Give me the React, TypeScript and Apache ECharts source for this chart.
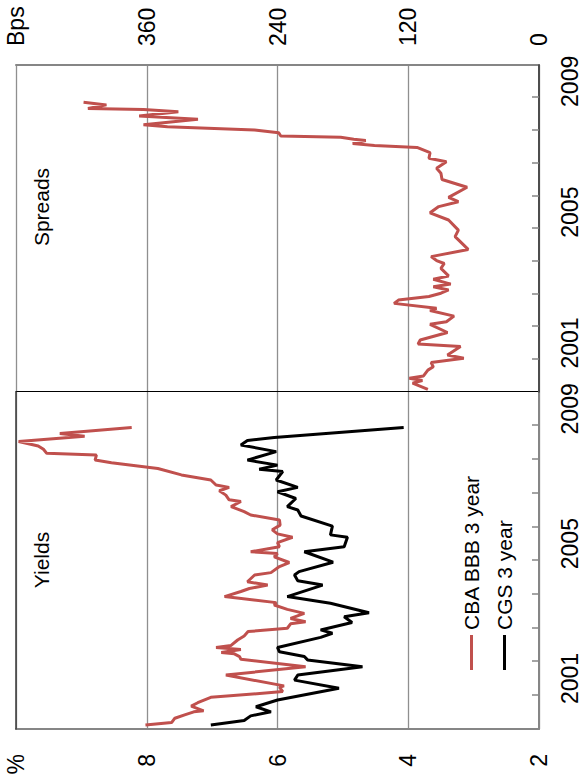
import { useEffect, useRef } from "react";
import * as echarts from "echarts";

const FONT = "'Liberation Sans', Arial, sans-serif";

// dates are decimal years
const bbbYieldT = [
  2000.12, 2000.19, 2000.32, 2000.42, 2000.51, 2000.54, 2000.68, 2000.78, 2000.94, 2001.11,
  2001.24, 2001.28, 2001.6, 2001.85, 2002.07, 2002.15, 2002.23, 2002.27, 2002.36, 2002.42,
  2002.48, 2002.64, 2002.76, 2002.89, 2002.99, 2003.12, 2003.18, 2003.28, 2003.43, 2003.55,
  2003.68, 2003.75, 2003.93, 2004.08, 2004.17, 2004.27, 2004.37, 2004.57, 2004.64, 2004.82,
  2004.94, 2005.11, 2005.21, 2005.26, 2005.41, 2005.53, 2005.69, 2005.79, 2005.91, 2006.05,
  2006.2, 2006.35, 2006.45, 2006.6, 2006.75, 2006.8, 2006.94, 2007.07, 2007.17, 2007.24,
  2007.39, 2007.54, 2007.73, 2007.9, 2007.98, 2008.13, 2008.18, 2008.3, 2008.4, 2008.53,
  2008.69, 2008.77, 2008.95,
];
const bbbYieldV = [
  8.02, 7.62, 7.57, 7.42, 7.28, 7.13, 7.32, 7.22, 7.02, 5.92,
  5.97, 5.9, 6.79, 5.57, 6.56, 6.58, 6.66, 6.86, 6.56, 6.94,
  6.71, 6.61, 6.51, 6.45, 5.85, 5.8, 5.57, 5.8, 5.59, 5.85,
  6.05, 6.02, 6.81, 6.56, 6.43, 6.15, 6.46, 6.35, 6.1, 5.97,
  5.82, 6.05, 6.0, 6.41, 5.97, 6.0, 5.77, 6.0, 6.08, 5.96,
  5.97, 6.41, 6.51, 6.71, 6.56, 6.74, 6.79, 6.89, 6.74, 6.94,
  7.02, 7.47, 7.83, 8.54, 8.79, 8.77, 9.53, 9.58, 9.66, 9.96,
  8.95, 9.33, 8.23,
];

const cgsYieldT = [
  2000.12, 2000.25, 2000.39, 2000.51, 2000.66, 2000.86, 2001.21, 2001.45, 2001.6, 2001.85,
  2002.05, 2002.15, 2002.29, 2002.42, 2002.72, 2002.84, 2002.94, 2003.16, 2003.33, 2003.45,
  2003.73, 2003.93, 2004.27, 2004.4, 2004.57, 2004.67, 2004.95, 2005.26, 2005.41, 2005.69,
  2005.76, 2006.02, 2006.32, 2006.5, 2006.6, 2006.84, 2007.04, 2007.17, 2007.39, 2007.64,
  2007.71, 2007.83, 2007.98, 2008.23, 2008.43, 2008.56, 2008.65, 2008.95,
];
const cgsYieldV = [
  7.02, 6.51, 6.41, 6.1, 6.33, 6.0, 5.06, 5.74, 5.69, 4.7,
  5.54, 5.59, 5.97, 6.0, 5.34, 5.16, 5.34, 4.86, 4.98, 4.6,
  5.19, 5.85, 5.31, 5.69, 5.74, 5.67, 5.15, 5.59, 4.98, 4.93,
  5.19, 5.16, 5.64, 5.69, 5.85, 5.72, 6.0, 5.69, 6.02, 5.92,
  6.28, 6.0, 6.46, 6.02, 6.56, 6.46, 6.05, 4.07,
];

const spreadT = [
  2000.08, 2000.27, 2000.35, 2000.42, 2000.49, 2000.67, 2000.77, 2000.9, 2001.03, 2001.13,
  2001.39, 2001.47, 2001.59, 2001.82, 2002.07, 2002.15, 2002.32, 2002.49, 2002.56, 2002.71,
  2002.81, 2002.92, 2003.02, 2003.12, 2003.22, 2003.3, 2003.45, 2003.55, 2003.78, 2003.93,
  2004.02, 2004.14, 2004.36, 2004.75, 2004.95, 2005.26, 2005.48, 2005.67, 2005.82, 2005.95,
  2006.26, 2006.5, 2006.69, 2006.84, 2007.04, 2007.15, 2007.32, 2007.48, 2007.54, 2007.6,
  2007.69, 2007.73, 2007.79, 2007.83, 2007.93, 2008.01, 2008.11, 2008.17, 2008.34, 2008.44,
  2008.57, 2008.64, 2008.67, 2008.78, 2008.86,
];
const spreadV = [
  102, 116, 107, 119, 106, 102, 97, 99, 69, 84,
  72, 111, 109, 84, 100, 85, 78, 100, 94, 133,
  129, 101, 90, 83, 97, 81, 97, 83, 90, 87,
  94, 99, 65, 77, 74, 83, 100, 92, 74, 83,
  66, 89, 90, 94, 85, 101, 100, 112, 151, 171,
  159, 170, 182, 237, 239, 261, 341, 363, 313, 367,
  331, 363, 414, 397, 418,
];

const yearTicks = [2001, 2002, 2003, 2004, 2005, 2006, 2007, 2008, 2009];
const yearLabels = [2001, 2005, 2009];

const RED = "#c0504d";
const FRAME = "#868686";
const GRID = "#8f8f8f";

const pairs = (t: number[], v: number[]) => t.map((x, i) => [x, v[i]]);

function timeAxis(gridIndex: number) {
  return {
    type: "value",
    gridIndex,
    min: 2000,
    max: 2010,
    position: "bottom",
    axisLine: { show: true, lineStyle: { color: FRAME, width: 2 } },
    axisTick: {
      show: true,
      inside: true,
      length: 7,
      customValues: yearTicks,
      lineStyle: { color: FRAME, width: 1.5 },
    },
    axisLabel: {
      customValues: yearLabels.map((y) => y + 0.5),
      formatter: (v: number) => String(Math.floor(v)),
      fontSize: 23,
      fontFamily: FONT,
      color: "#000",
      margin: 19,
    },
    splitLine: { show: false },
  };
}

function topEdge(gridIndex: number) {
  return {
    type: "value",
    gridIndex,
    min: 2000,
    max: 2010,
    position: "top",
    axisLine: { show: true, lineStyle: { color: "#3a3a3a", width: 1.5 } },
    axisTick: { show: false },
    axisLabel: { show: false },
    splitLine: { show: false },
  };
}

export default function App() {
  const hostRef = useRef<HTMLDivElement>(null);

  useEffect(() => {
    const el = hostRef.current;
    if (!el) return;
    const chart = echarts.init(el, undefined, { renderer: "svg" });

    chart.setOption({
      animation: false,
      backgroundColor: "#fff",
      textStyle: { fontFamily: FONT },
      grid: [
        { left: 53, right: 392, top: 16, bottom: 44 },
        { left: 390, right: 65, top: 16, bottom: 44 },
      ],
      xAxis: [timeAxis(0), timeAxis(1), topEdge(0), topEdge(1)],
      yAxis: [
        {
          type: "value",
          gridIndex: 0,
          min: 2,
          max: 10,
          interval: 2,
          position: "left",
          axisLine: { show: true, lineStyle: { color: FRAME, width: 2 } },
          axisTick: { show: false },
          axisLabel: {
            formatter: (v: number) => (v === 10 ? "%" : String(v)),
            fontSize: 23,
            fontFamily: FONT,
            color: "#000",
            margin: 25,
          },
          splitLine: { show: true, lineStyle: { color: GRID, width: 1.3 } },
        },
        {
          type: "value",
          gridIndex: 1,
          min: 0,
          max: 480,
          interval: 120,
          position: "right",
          axisLine: { show: true, lineStyle: { color: FRAME, width: 2 } },
          axisTick: { show: false },
          axisLabel: {
            formatter: (v: number) => (v === 480 ? "Bps" : String(v)),
            fontSize: 23,
            fontFamily: FONT,
            color: "#000",
            margin: 19,
          },
          splitLine: { show: true, lineStyle: { color: GRID, width: 1.3 } },
        },
        {
          type: "value",
          gridIndex: 1,
          min: 0,
          max: 480,
          interval: 120,
          position: "left",
          axisLine: { show: true, lineStyle: { color: "#000", width: 1.2 } },
          axisTick: { show: false },
          axisLabel: { show: false },
          splitLine: { show: false },
        },
      ],
      legend: {
        orient: "vertical",
        left: 107,
        top: 456,
        itemWidth: 35,
        itemHeight: 3,
        itemGap: 12,
        icon: "rect",
        textStyle: { fontSize: 21, lineHeight: 21, fontFamily: FONT, color: "#000" },
        data: ["CBA BBB 3 year", "CGS 3 year"],
      },
      graphic: [
        {
          type: "text",
          x: 222,
          y: 41,
          style: { text: "Yields", fontSize: 21, fontFamily: FONT, fill: "#000", align: "center", verticalAlign: "middle" },
        },
        {
          type: "text",
          x: 575,
          y: 41,
          style: { text: "Spreads", fontSize: 21, fontFamily: FONT, fill: "#000", align: "center", verticalAlign: "middle" },
        },
      ],
      series: [
        {
          name: "CBA BBB 3 year",
          type: "line",
          xAxisIndex: 0,
          yAxisIndex: 0,
          showSymbol: false,
          symbol: "none",
          color: RED,
          lineStyle: { color: RED, width: 3 },
          data: pairs(bbbYieldT, bbbYieldV),
        },
        {
          name: "CGS 3 year",
          type: "line",
          xAxisIndex: 0,
          yAxisIndex: 0,
          showSymbol: false,
          symbol: "none",
          color: "#000",
          lineStyle: { color: "#000", width: 3 },
          data: pairs(cgsYieldT, cgsYieldV),
        },
        {
          name: "Spread",
          type: "line",
          xAxisIndex: 1,
          yAxisIndex: 1,
          showSymbol: false,
          symbol: "none",
          color: RED,
          lineStyle: { color: RED, width: 3 },
          data: pairs(spreadT, spreadV),
        },
      ],
    });

    return () => chart.dispose();
  }, []);

  return (
    <div
      style={{
        position: "absolute",
        left: 0,
        top: 0,
        width: 583,
        height: 782,
        overflow: "hidden",
        background: "#fff",
      }}
    >
      <div
        ref={hostRef}
        role="img"
        aria-label="Yields and spreads"
        style={{
          position: "absolute",
          left: 0,
          top: 0,
          width: 782,
          height: 583,
          transformOrigin: "0 0",
          transform: "translateY(782px) rotate(-90deg)",
        }}
      />
    </div>
  );
}
